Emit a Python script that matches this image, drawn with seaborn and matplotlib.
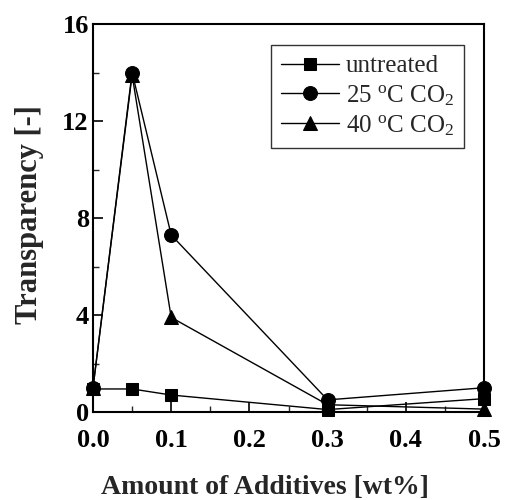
import matplotlib
matplotlib.use("Agg")
import matplotlib.pyplot as plt
from matplotlib.ticker import MultipleLocator, FormatStrFormatter
import seaborn as sns
import pandas as pd

# Additive content (wt%) and measured transparency for each treatment
additive = [0.0, 0.05, 0.1, 0.3, 0.5]
untreated = [0.95, 0.95, 0.7, 0.1, 0.55]
co2_25 = [1.0, 14.0, 7.3, 0.5, 1.0]
co2_40 = [1.0, 13.9, 3.9, 0.3, 0.12]

series_names = ["untreated", "25 $^{\\mathrm{o}}$C CO$_2$", "40 $^{\\mathrm{o}}$C CO$_2$"]
series_values = [untreated, co2_25, co2_40]
series_markers = ["s", "o", "^"]
series_sizes = [9, 10, 10]

sns.set_theme(style="white")
plt.rcParams["font.family"] = ["Liberation Serif", "DejaVu Serif"]
plt.rcParams["mathtext.fontset"] = "custom"
plt.rcParams["mathtext.rm"] = "Liberation Serif"
plt.rcParams["mathtext.it"] = "Liberation Serif:italic"
plt.rcParams["mathtext.bf"] = "Liberation Serif:bold"

fig = plt.figure(figsize=(5.06, 5.0), dpi=100)
ax = fig.add_axes([93 / 506, 1 - 412 / 500, (484 - 93) / 506, (412 - 24) / 500])

for name, vals, mk, ms in zip(series_names, series_values, series_markers, series_sizes):
    df = pd.DataFrame({"x": additive, "y": vals})
    sns.lineplot(data=df, x="x", y="y", ax=ax, color="black", linewidth=1.0,
                 marker=mk, markersize=ms, markeredgecolor="black",
                 markerfacecolor="black", label=name, clip_on=False, zorder=3)

ax.set_xlim(0, 0.5)
ax.set_ylim(0, 16)
ax.xaxis.set_major_locator(MultipleLocator(0.1))
ax.xaxis.set_minor_locator(MultipleLocator(0.05))
ax.yaxis.set_major_locator(MultipleLocator(4))
ax.yaxis.set_minor_locator(MultipleLocator(2))
ax.xaxis.set_major_formatter(FormatStrFormatter("%.1f"))

ax.tick_params(which="major", direction="in", length=7, width=1.2, colors="black",
               labelsize=19, top=False, right=False, bottom=True, left=True)
ax.tick_params(axis="x", which="major", pad=12)
ax.tick_params(axis="y", which="major", pad=3)
ax.tick_params(which="minor", direction="in", length=4, width=1.0,
               bottom=True, left=True)
for lbl in ax.get_xticklabels() + ax.get_yticklabels():
    lbl.set_fontweight("bold")

for sp in ax.spines.values():
    sp.set_visible(True)
    sp.set_color("black")
    sp.set_linewidth(1.5)

ax.set_xlabel("Amount of Additives [wt%]", fontsize=20, fontweight="bold")
ax.set_ylabel("Transparency [-]", fontsize=22, fontweight="bold")
ax.xaxis.set_label_coords(0.44, -0.162)
ax.yaxis.set_label_coords(-0.125, 0.51)

leg = ax.legend(loc="upper right", bbox_to_anchor=(0.95, 0.946), fontsize=18,
                frameon=True, fancybox=False, edgecolor="black", borderpad=0.4,
                handlelength=2.3, handletextpad=0.3, labelspacing=0.22,
                borderaxespad=0)
leg.get_frame().set_linewidth(1.0)

fig.savefig("out.png", dpi=100)
